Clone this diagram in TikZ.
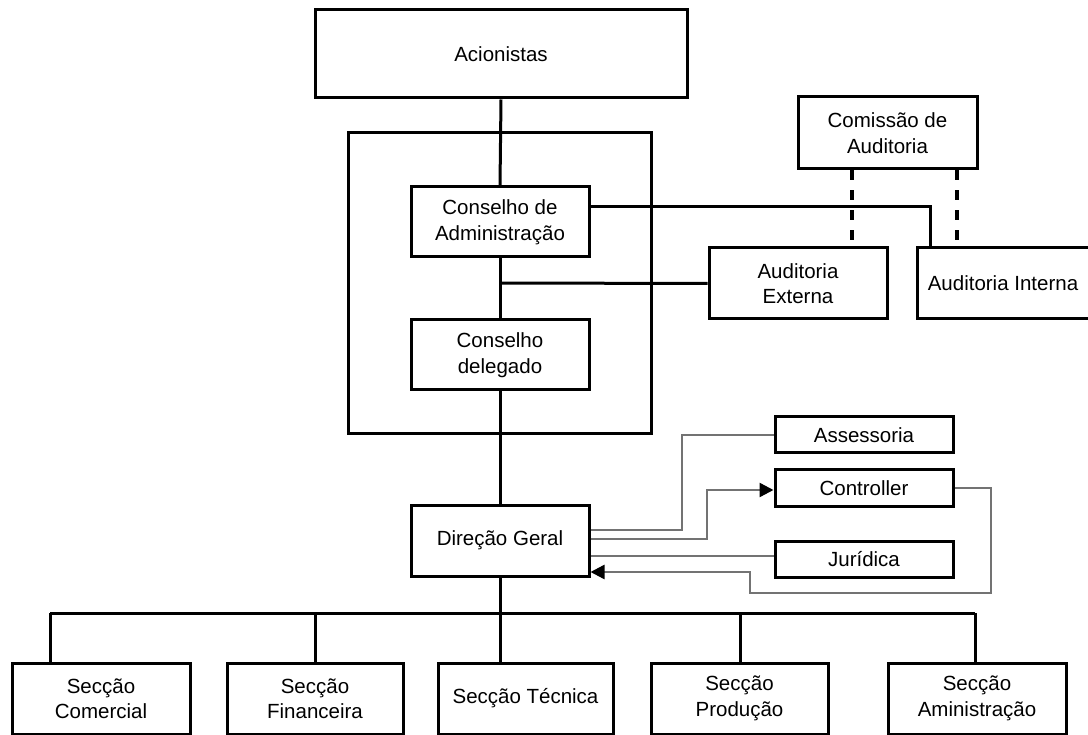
\documentclass[tikz,border=0pt]{standalone}
\usepackage{fontspec}
\setmainfont{Liberation Sans}
\usetikzlibrary{arrows.meta}
\begin{document}
\begin{tikzpicture}[x=1pt,y=-1pt,
  box/.style={draw=black,line width=3pt,fill=white,align=center,inner sep=0pt,
    font=\fontsize{20.5}{25.5}\selectfont},
  link/.style={draw=black,line width=3pt},
  glink/.style={draw=black!55,line width=2.4pt},
  tip/.style={-{Triangle[length=14pt,width=14pt,fill=black,color=black]}},
  dlink/.style={draw=black,line width=3.2pt,dash pattern=on 10pt off 10pt}]
\useasboundingbox (0,0) rectangle (1088,735);
% frame
\draw[line width=3pt] (348,133) rectangle (651,434);
\node[box,minimum width=372pt,minimum height=88pt] (acion) at (501,54) {Acionistas};
\node[box,minimum width=178pt,minimum height=70pt] (ca) at (500,222) {Conselho de\\Administração};
\node[box,minimum width=178pt,minimum height=70pt] (cd) at (500,355) {Conselho\\delegado};
\node[box,minimum width=179pt,minimum height=72pt] (com) at (887.5,133) {Comissão de\\Auditoria};
\node[box,minimum width=178pt,minimum height=71pt] (ae) at (798,283.5) {Auditoria\\Externa};
\node[box,minimum width=172pt,minimum height=71pt] (ai) at (1003,283.5) {Auditoria Interna};
\node[box,minimum width=178pt,minimum height=71pt] (dg) at (500,540.5) {Direção Geral};
\node[box,minimum width=178pt,minimum height=36pt] (ass) at (864,435) {Assessoria};
\node[box,minimum width=178pt,minimum height=36pt] (ctl) at (864,488) {Controller};
\node[box,minimum width=178pt,minimum height=36pt] (jur) at (864,559) {Jurídica};
\node[box,minimum width=178pt,minimum height=71pt] (s1) at (101,698.5) {Secção\\Comercial};
\node[box,minimum width=176pt,minimum height=71pt] (s2) at (315,698.5) {Secção\\Financeira};
\node[box,minimum width=175pt,minimum height=71pt] (s3) at (525.5,698.5) {Secção Técnica};
\node[box,minimum width=177pt,minimum height=71pt] (s4) at (739.5,698.5) {Secção\\Produção};
\node[box,minimum width=178pt,minimum height=71pt] (s5) at (977,698.5) {Secção\\Aministração};
% main vertical
\draw[link] (acion.south) -- (ca.north);
\draw[link] (ca.south) -- (cd.north);
\draw[link] (cd.south) -- (dg.north);
\coordinate (jae) at (500,283);
\draw[link] (jae) -- (ae.west);
\draw[link] (ca.east |- 0,207) -| (ai.north -| 930,0);
\draw[dlink] (com.south -| 852,0) -- (ae.north -| 852,0);
\draw[dlink] (com.south -| 957,0) -- (ai.north -| 957,0);
% staff links
\draw[glink] (ass.west) -| (682,530) -- (dg.east |- 0,530);
\draw[glink,tip] (dg.east |- 0,539) -| (707,490) -- (ctl.west |- 0,490);
\draw[glink] (jur.west |- 0,556) -- (dg.east |- 0,556);
\draw[glink,tip] (ctl.east |- 0,488) -| (991,593) -| (750,572) -- (dg.east |- 0,572);
% bottom bus
\coordinate (bus) at (500,613);
\draw[link] (dg.south) -- (bus);
\draw[link] (50,613) -- (975,613);
\draw[link] (50,613) -- (50,663);
\draw[link] (315,613) -- (s2.north);
\draw[link] (500,613) -- (500,663);
\draw[link] (740,613) -- (740,663);
\draw[link] (975,613) -- (975,663);
\end{tikzpicture}
\end{document}
